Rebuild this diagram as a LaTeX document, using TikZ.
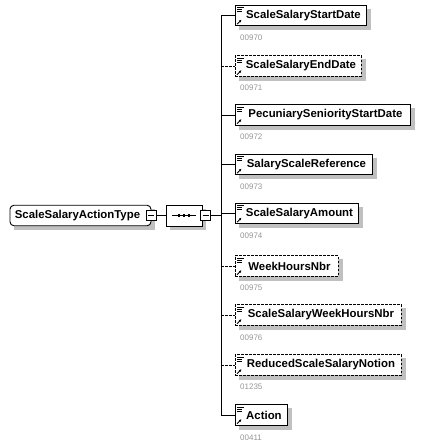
\documentclass[tikz,border=0pt]{standalone}
\usepackage{fontspec}
\setmainfont{Liberation Sans}
\usetikzlibrary{shapes.misc,arrows.meta,backgrounds}
\definecolor{shad}{RGB}{192,192,192}
\definecolor{numc}{RGB}{150,150,150}
\begin{document}
\begin{tikzpicture}[x=1pt,y=-1pt,
  elem/.style={draw, line width=0.9pt, fill=white, minimum height=20.5pt, inner xsep=0pt, inner ysep=0pt,
    anchor=west, font=\bfseries\fontsize{11.4}{13}\selectfont},
  optelem/.style={elem, dash pattern=on 2.5pt off 1.5pt},
  num/.style={anchor=west, inner sep=0pt, font=\fontsize{8}{9}\selectfont, text=numc},
  conn/.style={line width=0.9pt},
  optconn/.style={conn, dash pattern=on 2.5pt off 1.5pt},
  minus/.style={draw, fill=white, line width=0.7pt, minimum size=10pt, inner sep=0pt,
    path picture={\draw[line width=0.7pt] ([xshift=2pt]path picture bounding box.west) -- ([xshift=-2pt]path picture bounding box.east);}},
  seqbox/.style={draw, fill=white, line width=0.9pt, chamfered rectangle, chamfered rectangle xsep=4pt,
    minimum width=36pt, minimum height=21pt, inner sep=0pt},
  shadowfill/.style={fill=shad},
  ]
\useasboundingbox (0,0) rectangle (429,448);

% root
\node[elem, rounded corners=4pt, minimum width=141pt, anchor=center] (root) at (80.5,215.5) {ScaleSalaryActionType\hspace*{6pt}};
\node[minus] (rm) at (151,215.5) {};
% sequence compositor
\node[seqbox] (seq) at (184,215.5) {};
\draw[line width=0.9pt] ([xshift=-12pt]seq.center) -- ([xshift=12pt]seq.center);
\foreach \dx in {-5,0,5} \fill ([xshift=\dx pt]seq.center) +(-1.4,-1.4) rectangle +(1.4,1.4);
\node[minus] (sm) at (205.5,215.5) {};
\draw[conn] (rm.east) -- (seq.west);

% children
\node[elem, minimum width=131pt] (e1) at (235,15.5) {\hspace*{5pt}ScaleSalaryStartDate};
\node[optelem, minimum width=126pt] (e2) at (235,66) {\hspace*{5pt}ScaleSalaryEndDate};
\node[elem, minimum width=175pt] (e3) at (235,115) {\hspace*{5pt}PecuniarySeniorityStartDate};
\node[elem, minimum width=137pt] (e4) at (235,164.5) {\hspace*{5pt}SalaryScaleReference};
\node[elem, minimum width=123pt] (e5) at (235,213.5) {\hspace*{5pt}ScaleSalaryAmount};
\node[optelem, minimum width=103pt] (e6) at (235,266) {\hspace*{5pt}WeekHoursNbr};
\node[optelem, minimum width=166pt] (e7) at (235,315) {\hspace*{5pt}ScaleSalaryWeekHoursNbr};
\node[optelem, minimum width=166pt] (e8) at (235,365) {\hspace*{5pt}ReducedScaleSalaryNotion};
\node[elem, minimum width=52pt] (e9) at (235,415) {\hspace*{5pt}Action};

\node[num] (n1) at (240,37.5) {00970};
\node[num] (n2) at (240,88) {00971};
\node[num] (n3) at (240,137) {00972};
\node[num] (n4) at (240,186.5) {00973};
\node[num] (n5) at (240,236) {00974};
\node[num] (n6) at (240,288) {00975};
\node[num] (n7) at (240,337.5) {00976};
\node[num] (n8) at (240,387) {01235};
\node[num] (n9) at (240,437.5) {00411};

% shadows
\begin{scope}[on background layer]
\foreach \n in {root,e1,e2,e3,e4,e5,e6,e7,e8,e9,seq}
  \fill[shadowfill] ([xshift=4pt,yshift=-4pt]\n.south west) rectangle ([xshift=4pt,yshift=-4pt]\n.north east);
\end{scope}

% icons
\foreach \n in {e1,e2,e3,e4,e5,e6,e7,e8,e9} {
  \draw[line width=0.6pt] ([xshift=2pt,yshift=-2.5pt]\n.north west) -- ++(6.5,0);
  \draw[line width=0.6pt] ([xshift=2pt,yshift=-4.5pt]\n.north west) -- ++(5,0);
  \draw[line width=0.6pt] ([xshift=2pt,yshift=-6.5pt]\n.north west) -- ++(5,0);
  \draw[line width=0.8pt, -{Latex[length=2.6pt,width=2.6pt]}] ([xshift=2pt,yshift=2pt]\n.south west) -- ++(4.5,-4.5);
}

% spine
\coordinate (vtop) at (221,15.5);
\coordinate (vbot) at (221,415);
\coordinate (vmid) at (221,215.5);
\draw[conn] (vtop) -- (vbot);
\draw[conn] (sm.east) -- (vmid);
\foreach \n in {e1,e3,e4,e5,e9} \draw[conn] (\n.west -| vtop) -- (\n.west);
\foreach \n in {e2,e6,e7,e8} \draw[optconn] (\n.west -| vtop) -- (\n.west);
\end{tikzpicture}
\end{document}
